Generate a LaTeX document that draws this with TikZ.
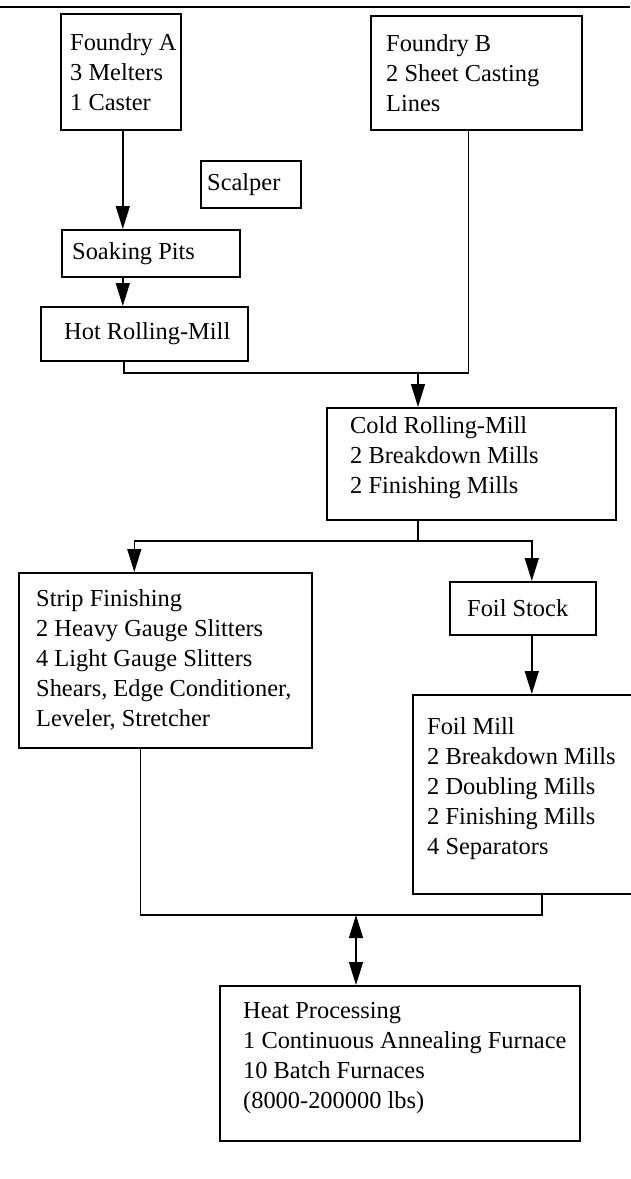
\documentclass[tikz,border=0pt]{standalone}
\usepackage{fontspec}
\setmainfont{Liberation Serif}
\usetikzlibrary{arrows.meta}

\begin{document}
\begin{tikzpicture}
        [x=1pt, y=-1pt,
         plant/.style={draw, line width=1.6pt, rectangle, anchor=north west, inner sep=0pt},
         plant text/.style={anchor=west, align=left, inner sep=0pt, font=\fontsize{24.4}{30}\selectfont},
         flow/.style={line width=1.4pt, -{Triangle[length=23pt, width=14pt]}},
         flow both/.style={line width=1.4pt, {Triangle[length=23pt, width=14pt]}-{Triangle[length=23pt, width=14pt]}}]
        %cornice della figura
            \useasboundingbox (0,0) rectangle (630,1179);
            \draw[line width=2.5pt] (0,7) -- (630,7);
        %blocchi in alto
            \node[plant, minimum width=120pt, minimum height=116pt] (fa) at (60,13) {};
            \node[plant, minimum width=211pt, minimum height=114pt] (fb) at (370,15) {};
            \node[plant, minimum width=100pt, minimum height=47pt] (sc) at (200,160) {};
            \node[plant, minimum width=178pt, minimum height=47pt] (sp) at (61,229) {};
            \node[plant, minimum width=207pt, minimum height=54pt] (hr) at (40,306) {};
        %blocchi centrali
            \node[plant, minimum width=289pt, minimum height=112pt] (cr) at (326,407) {};
            \node[plant, minimum width=293pt, minimum height=175pt] (sf) at (18,572) {};
            \node[plant, minimum width=146pt, minimum height=53pt] (fs) at (449,581) {};
            \node[plant, minimum width=258pt, minimum height=199pt] (fm) at (412,694) {};
        %blocco in basso
            \node[plant, minimum width=360pt, minimum height=155pt] (hp) at (219,985) {};
        %testi
            \node[plant text] (fa-t) at ([xshift=10pt]fa.west) {Foundry A\\3 Melters\\1 Caster};
            \node[plant text] (fb-t) at ([xshift=16pt]fb.west) {Foundry B\\2 Sheet Casting\\Lines};
            \node[plant text] (sc-t) at ([xshift=7pt]sc.west) {Scalper};
            \node[plant text] (sp-t) at ([xshift=11pt]sp.west) {Soaking Pits};
            \node[plant text] (hr-t) at ([xshift=24pt]hr.west) {Hot Rolling-Mill};
            \node[plant text] (cr-t) at ([xshift=24pt, yshift=6pt]cr.west) {Cold Rolling-Mill\\2 Breakdown Mills\\2 Finishing Mills};
            \node[plant text] (sf-t) at ([xshift=18pt]sf.west) {Strip Finishing\\2 Heavy Gauge Slitters\\4 Light Gauge Slitters\\Shears, Edge Conditioner,\\Leveler, Stretcher};
            \node[plant text] (fs-t) at ([xshift=18pt]fs.west) {Foil Stock};
            \node[plant text] (fm-t) at ([xshift=15pt, yshift=6pt]fm.west) {Foil Mill\\2 Breakdown Mills\\2 Doubling Mills\\2 Finishing Mills\\4 Separators};
            \node[plant text] (hp-t) at ([xshift=24pt, yshift=5pt]hp.west) {Heat Processing\\1 Continuous Annealing Furnace\\10 Batch Furnaces\\(8000-200000 lbs)};
        %punti di raccordo
            \coordinate (j1) at (418,373);
            \coordinate (j2) at (418,541);
            \coordinate (j3) at (356,915);
        %collegamenti
            \draw[flow] ([xshift=2pt]fa.south) -- ([xshift=2pt]fa.south |- sp.north);
            \draw[flow] ([xshift=2pt]fa.south |- sp.south) -- ([xshift=2pt]fa.south |- hr.north);
            \draw[line width=1.4pt] ([xshift=3pt]fa.south |- hr.south) |- ([xshift=-8pt]fb.south |- j1) -- ([xshift=-8pt]fb.south);
            \draw[flow] (j1) -- (j1 |- cr.north);
            \draw[line width=1.4pt] (j1 |- cr.south) -- (j2);
            \draw[flow] (j2) -| ([xshift=-31pt]sf.north);
            \draw[flow] (j2) -| ([xshift=9pt]fs.north);
            \draw[flow] ([xshift=9pt]fs.south) -- ([xshift=9pt]fs.south |- fm.north);
            \draw[line width=1.4pt] ([xshift=-25pt]sf.south) |- (fm.south |- j3) -- (fm.south);
            \draw[flow both] (j3) -- (j3 |- hp.north);
\end{tikzpicture}
\end{document}
